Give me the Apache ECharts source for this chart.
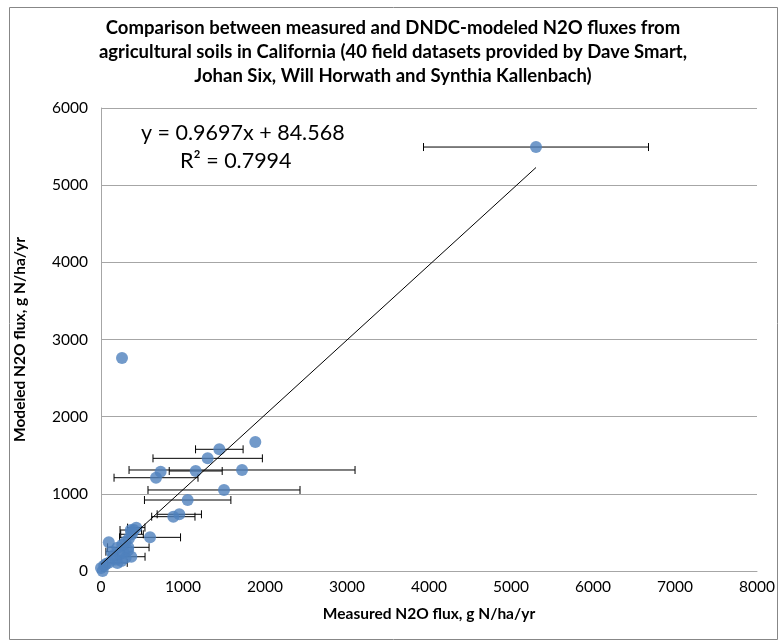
<!DOCTYPE html>
<html>
<head>
<meta charset="utf-8">
<script src="https://cdn.jsdelivr.net/npm/echarts@6/dist/echarts.min.js"></script>
<style>
  html, body { margin: 0; padding: 0; background: #fff; }
  #chart { width: 783px; height: 640px; }
</style>
</head>
<body>
<div id="chart"></div>
<script>
// measured (x), modeled (y), half width of the x error bar (0 = none)
var measured = [5305, 256, 1882, 1443, 1301, 1720, 1155, 727, 671, 1500,
                1057, 955, 882, 430, 598, 95, 20, 0, 40, 60,
                100, 200, 250, 180, 300, 370, 150, 230, 280, 130,
                330, 200, 333, 260, 300, 340, 378, 370, 363, 400];
var modeled  = [5494, 2760, 1672, 1577, 1460, 1309, 1296, 1287, 1209, 1050,
                920, 735, 704, 562, 436, 372, 0, 40, 70, 90,
                110, 105, 130, 150, 170, 185, 200, 220, 240, 250,
                270, 300, 307, 340, 380, 420, 476, 500, 531, 530];
var xError   = [1372, 0, 0, 290, 667, 1378, 323, 0, 512, 927,
                527, 270, 264, 106, 372, 0, 0, 0, 0, 0,
                0, 120, 0, 0, 0, 167, 0, 0, 0, 70,
                0, 0, 253, 0, 0, 0, 138, 0, 131, 0];
var slope = 0.9697, intercept = 84.568, rSquared = 0.7994;
var xTicks = [0, 8000, 1000];
var yTicks = [0, 6000, 1000];
var titleLines = ['Comparison between measured and DNDC-modeled N2O fluxes from',
                  'agricultural soils in California (40 field datasets provided by Dave Smart,',
                  'Johan Six, Will Horwath and Synthia Kallenbach)'];

var font = 'Lato, "Open Sans", sans-serif';

var points = measured.map(function (x, i) { return [x, modeled[i]]; });
var bars = measured.map(function (x, i) { return [x, modeled[i], xError[i]]; });
var xMin = Math.min.apply(null, measured), xMax = Math.max.apply(null, measured);
var trend = [[xMin, slope * xMin + intercept], [xMax, slope * xMax + intercept]];

var myChart = echarts.init(document.getElementById('chart'));
myChart.setOption({
    animation: false,
    backgroundColor: '#fff',
    graphic: [
        { type: 'rect', left: 7, top: 5, shape: { width: 768, height: 632 },
          style: { fill: 'none', stroke: '#878787', lineWidth: 1 }, silent: true },
        { type: 'text', x: 393, y: 16,
          style: { text: titleLines.join('\n'), font: 'bold 18.5px ' + font, fill: '#000',
                   textAlign: 'center', lineHeight: 24 } },
        { type: 'text', left: 141, top: 122,
          style: { text: 'y = ' + slope + 'x + ' + intercept, font: '21.5px ' + font, fill: '#000' } },
        { type: 'text', left: 180, top: 150,
          style: { text: 'R² = ' + rSquared, font: '21.5px ' + font, fill: '#000' } }
    ],
    grid: { left: 101, right: 26, top: 108, bottom: 69 },
    xAxis: {
        type: 'value', min: xTicks[0], max: xTicks[1], interval: xTicks[2],
        name: 'Measured N2O flux, g N/ha/yr', nameLocation: 'middle', nameGap: 35,
        nameTextStyle: { fontFamily: font, fontSize: 15.5, fontWeight: 'bold', color: '#000' },
        axisLine: { lineStyle: { color: '#a6a6a6' } },
        axisTick: { show: false },
        axisLabel: { fontFamily: font, fontSize: 15.5, color: '#000', margin: 8,
                     formatter: function (v) { return String(v); } },
        splitLine: { show: false }
    },
    yAxis: {
        type: 'value', min: yTicks[0], max: yTicks[1], interval: yTicks[2],
        name: 'Modeled N2O flux, g N/ha/yr', nameLocation: 'middle', nameGap: 73,
        nameTextStyle: { fontFamily: font, fontSize: 15.5, fontWeight: 'bold', color: '#000' },
        axisLine: { show: true, lineStyle: { color: '#a6a6a6' } },
        axisTick: { show: false },
        axisLabel: { fontFamily: font, fontSize: 15.5, color: '#000', margin: 13,
                     formatter: function (v) { return String(v); } },
        splitLine: { lineStyle: { color: '#a6a6a6' } }
    },
    series: [
        {
            type: 'custom',
            data: bars,
            z: 2,
            renderItem: function (params, api) {
                var x = api.value(0), y = api.value(1), e = api.value(2);
                if (!e) return { type: 'group', children: [] };
                var l = api.coord([x - e, y]);
                var r = api.coord([x + e, y]);
                var style = { stroke: '#000', lineWidth: 1 };
                return {
                    type: 'group',
                    children: [
                        { type: 'line', shape: { x1: l[0], y1: l[1], x2: r[0], y2: r[1] }, style: style },
                        { type: 'line', shape: { x1: l[0], y1: l[1] - 4, x2: l[0], y2: l[1] + 4 }, style: style },
                        { type: 'line', shape: { x1: r[0], y1: r[1] - 4, x2: r[0], y2: r[1] + 4 }, style: style }
                    ]
                };
            }
        },
        {
            type: 'scatter',
            data: points,
            symbolSize: 12,
            z: 3,
            itemStyle: { color: '#4f81bd' }
        },
        {
            type: 'line',
            data: trend,
            symbol: 'none',
            z: 4,
            lineStyle: { color: '#000', width: 1 }
        }
    ]
});
</script>
</body>
</html>
